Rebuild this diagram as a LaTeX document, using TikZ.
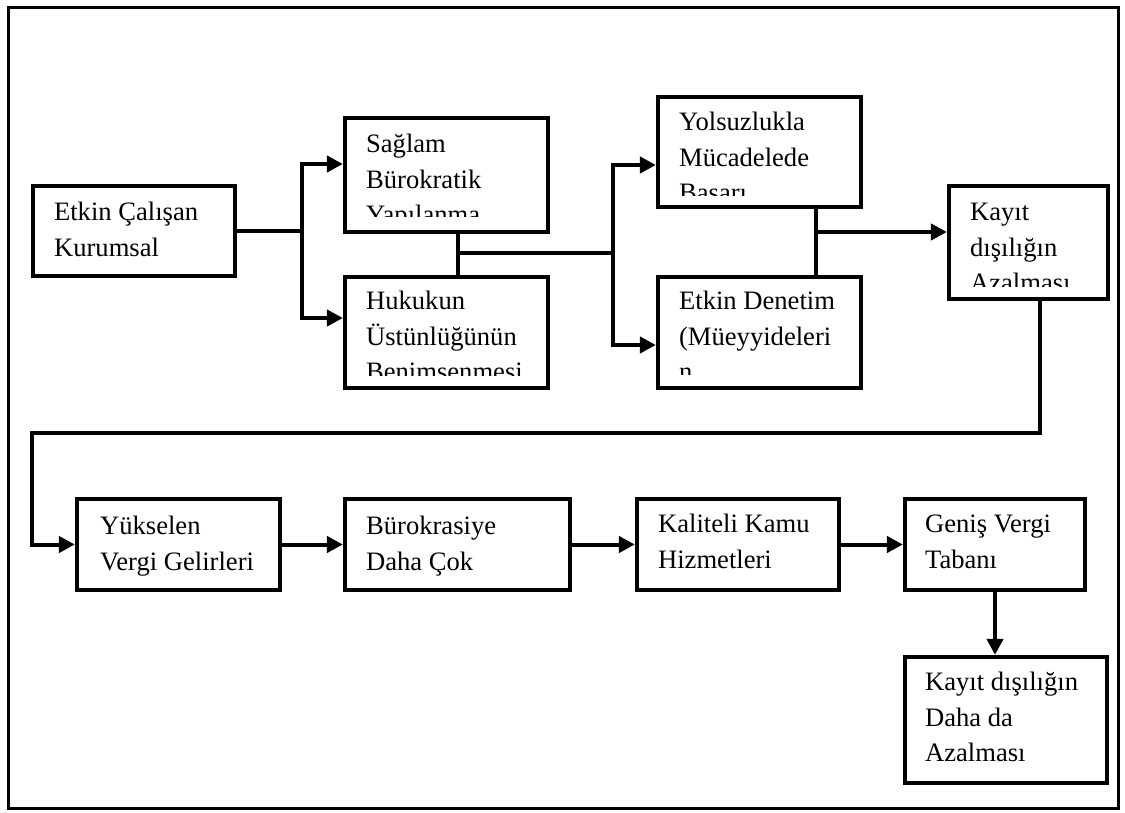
\documentclass[tikz,border=0pt]{standalone}
\usepackage{fontspec}
\setmainfont{Liberation Serif}
\usetikzlibrary{arrows.meta,calc}
\newcommand\boxlines[1]{\vtop{\baselineskip=35.5pt\halign{##\hfil\cr#1\crcr}}}
\begin{document}
\begin{tikzpicture}[x=1pt,y=-1pt,
  box/.style={draw=black,line width=4.2pt,inner sep=0pt,rectangle},
  txt/.style={anchor=base west,inner sep=0pt,font=\fontsize{26.6}{35.5}\selectfont},
  conn/.style={line width=4pt},
  arr/.style={conn,-{Triangle[length=16pt,width=16pt]}},
  frame/.style={line width=3pt}]
\useasboundingbox (0,0) rectangle (1125,813);
\draw[frame] (8,8) rectangle (1118,808);

% boxes
\node[box,minimum width=202pt,minimum height=90pt]  (b1)  at (134,231) {};
\node[box,minimum width=203pt,minimum height=114pt] (sag) at (446.5,175) {};
\node[box,minimum width=203pt,minimum height=111pt] (huk) at (446.5,332.5) {};
\node[box,minimum width=203pt,minimum height=110pt] (yol) at (759.5,152) {};
\node[box,minimum width=203pt,minimum height=111pt] (etk) at (759.5,332.5) {};
\node[box,minimum width=159pt,minimum height=113pt] (kay) at (1028.5,242.5) {};
\node[box,minimum width=203pt,minimum height=91pt]  (yuk) at (178.5,544.5) {};
\node[box,minimum width=225pt,minimum height=91pt]  (bur) at (457.5,544.5) {};
\node[box,minimum width=202pt,minimum height=91pt]  (kal) at (738,544.5) {};
\node[box,minimum width=180pt,minimum height=91pt]  (gen) at (995,544.5) {};
\node[box,minimum width=202pt,minimum height=126pt] (low) at (1006,720) {};

% texts
\node[txt] (t1) at ($(b1.north west)+(23,37)$) {\boxlines{Etkin Çalışan\cr Kurumsal}};
\begin{scope}
\clip (sag.north west) rectangle ([yshift=18pt]sag.south east);
\node[txt] (t2) at ($(sag.north west)+(23,37)$) {\boxlines{Sağlam\cr Bürokratik\cr Yapılanma}};
\end{scope}
\begin{scope}
\clip (huk.north west) rectangle ([yshift=15pt]huk.south east);
\node[txt] (t3) at ($(huk.north west)+(23,35)$) {\boxlines{Hukukun\cr Üstünlüğünün\cr Benimsenmesi}};
\end{scope}
\begin{scope}
\clip (yol.north west) rectangle ([yshift=14pt]yol.south east);
\node[txt] (t4) at ($(yol.north west)+(23,36)$) {\boxlines{Yolsuzlukla\cr Mücadelede\cr Başarı}};
\end{scope}
\begin{scope}
\clip (etk.north west) rectangle ([yshift=16pt]etk.south east);
\node[txt] (t5) at ($(etk.north west)+(23,35)$) {\boxlines{Etkin Denetim\cr (Müeyyideleri\cr n}};
\end{scope}
\begin{scope}
\clip (kay.north west) rectangle ([yshift=15pt]kay.south east);
\node[txt] (t6) at ($(kay.north west)+(23,37)$) {\boxlines{Kayıt\cr dışılığın\cr Azalması}};
\end{scope}
\node[txt] (t7)  at ($(yuk.north west)+(25,38)$) {\boxlines{Yükselen\cr Vergi Gelirleri}};
\node[txt] (t8)  at ($(bur.north west)+(23,38)$) {\boxlines{Bürokrasiye\cr Daha Çok}};
\node[txt] (t9)  at ($(kal.north west)+(23,36)$) {\boxlines{Kaliteli Kamu\cr Hizmetleri}};
\node[txt] (t10) at ($(gen.north west)+(22,36)$) {\boxlines{Geniş Vergi\cr Tabanı}};
\node[txt] (t11) at ($(low.north west)+(22,36)$) {\boxlines{Kayıt dışılığın\cr Daha da\cr Azalması}};

% junctions
\coordinate (j1) at (302,231);
\coordinate (j2) at (458,253);
\coordinate (j3) at (613,253);
\coordinate (j4) at (816,232);
\coordinate (j5) at (1040,433);
\coordinate (j6) at (32,433);

% connectors
\draw[conn] (b1.east) -- (b1.east -| j1);
\draw[arr] (j1) |- ([yshift=11pt]sag.west);
\draw[arr] (j1) |- ([yshift=14.5pt]huk.west);
\draw[conn] (sag.south -| j2) -- (huk.north -| j2);
\draw[conn] (j2) -- (j3);
\draw[arr] (j3) |- ([yshift=-13pt]yol.west);
\draw[arr] (j3) |- ([yshift=-12.5pt]etk.west);
\draw[conn] (yol.south -| j4) -- (etk.north -| j4);
\draw[arr] (j4) -- (j4 -| kay.west);
\draw[arr] (kay.south -| j5) -- (j5) -- (j6) |- (yuk.west);
\draw[arr] (yuk.east) -- (bur.west);
\draw[arr] (bur.east) -- (kal.west);
\draw[arr] (kal.east) -- (gen.west);
\draw[arr] (gen.south) -- (gen.south |- low.north);
\end{tikzpicture}
\end{document}
